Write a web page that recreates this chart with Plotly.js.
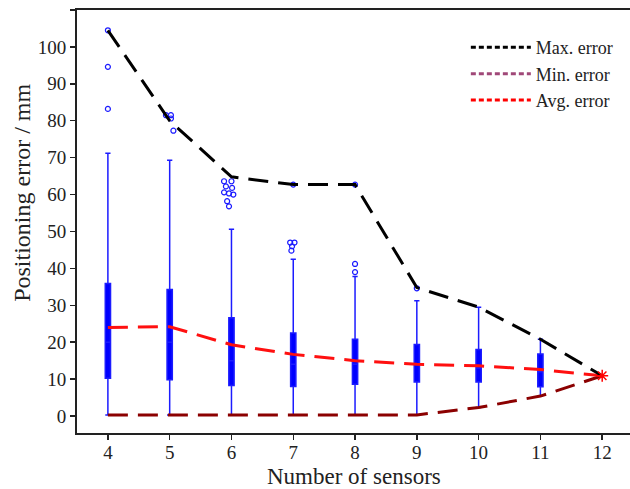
<!DOCTYPE html>
<html>
<head>
<meta charset="utf-8">
<script src="https://cdn.plot.ly/plotly-3.0.1.min.js"></script>
<style>
  html, body { margin: 0; padding: 0; background: #fff; }
  #chart { width: 630px; height: 489px; }
</style>
</head>
<body>
<div id="chart"></div>
<script>
// Number of sensors for each box
const sensors = [4, 5, 6, 7, 8, 9, 10, 11];

// Box statistics (mm)
const lowerWhisker = [0.3, 0.3, 0.3, 0.3, 0.3, 0.3, 2.3, 5.4];
const q1 = [10.2, 9.8, 8.3, 8.0, 8.6, 9.2, 9.2, 7.9];
const median = [20, 20, 15, 14, 14, 14, 13, 12];
const q3 = [35.9, 34.3, 26.6, 22.5, 20.8, 19.4, 18.0, 16.8];
const upperWhisker = [71.2, 69.3, 50.6, 42.5, 37.8, 31.2, 29.5, 20.8];

// Outlier samples (x with slight spread, value in mm)
const outlierX = [4, 4, 4,
  4.94, 5.02, 5.02, 5.06,
  5.88, 6.0, 5.91, 6.01, 5.88, 5.96, 6.03, 5.93, 5.96,
  7.0, 6.95, 7.02, 6.98, 6.97,
  8.0, 8.0, 8.0,
  9.0];
const outlierY = [104.5, 94.6, 83.2,
  81.5, 81.5, 80.6, 77.3,
  63.6, 63.6, 62.2, 61.8, 60.6, 60.3, 60.0, 58.2, 56.8,
  62.7, 47.0, 47.0, 46.0, 44.8,
  62.7, 41.2, 39.0,
  34.6];

// Summary curves over all sensor counts
const curveX = [4, 5, 6, 7, 8, 9, 10, 11, 12];
const maxError = [104.5, 80.0, 64.8, 62.7, 62.7, 34.8, 29.5, 20.8, 10.9];
const minError = [0.3, 0.3, 0.3, 0.3, 0.3, 0.3, 2.3, 5.4, 10.9];
const avgError = [24.0, 24.2, 19.3, 16.7, 15.0, 14.0, 13.6, 12.6, 10.9];

const seriesNames = ['Max. error', 'Min. error', 'Avg. error'];
const xTicks = [4, 5, 6, 7, 8, 9, 10, 11, 12];
const yTicks = [0, 10, 20, 30, 40, 50, 60, 70, 80, 90, 100, 110];

const serif = '"Liberation Serif", Tinos, "Times New Roman", Times, "DejaVu Serif", serif';
const ink = '#222222';
const longDash = '20px,10px';

const traces = [
  {
    type: 'box',
    x: sensors,
    q1: q1,
    median: median,
    q3: q3,
    lowerfence: lowerWhisker,
    upperfence: upperWhisker,
    boxpoints: false,
    width: 0.085,
    whiskerwidth: 1,
    fillcolor: '#0000ff',
    line: { color: '#1c1cff', width: 1.5 },
    showlegend: false,
    hoverinfo: 'skip'
  },
  {
    type: 'scatter',
    mode: 'markers',
    x: outlierX,
    y: outlierY,
    marker: { symbol: 'circle-open', size: 5, color: '#1a1aff', line: { width: 1.2 } },
    showlegend: false,
    hoverinfo: 'skip'
  },
  {
    type: 'scatter', mode: 'lines', x: curveX, y: minError,
    line: { color: '#8b0000', width: 3, dash: longDash },
    showlegend: false
  },
  {
    type: 'scatter', mode: 'lines', x: curveX, y: avgError,
    line: { color: '#ff1010', width: 3, dash: longDash },
    showlegend: false
  },
  {
    type: 'scatter', mode: 'lines', x: curveX, y: maxError,
    line: { color: '#000000', width: 3, dash: longDash },
    showlegend: false
  },
  {
    type: 'scatter', mode: 'markers',
    x: curveX.slice(-1), y: avgError.slice(-1),
    marker: { symbol: 'asterisk-open', size: 10, color: '#ff0000', line: { width: 1.5, color: '#ff0000' } },
    showlegend: false
  },
  // Legend entries (short-dash samples)
  {
    type: 'scatter', mode: 'lines', x: [null], y: [null], name: seriesNames[0],
    line: { color: '#000000', width: 3, dash: '5px,3px' }
  },
  {
    type: 'scatter', mode: 'lines', x: [null], y: [null], name: seriesNames[1],
    line: { color: '#a04878', width: 3, dash: '5px,3px' }
  },
  {
    type: 'scatter', mode: 'lines', x: [null], y: [null], name: seriesNames[2],
    line: { color: '#ff0000', width: 3, dash: '5px,3px' }
  }
];

const layout = {
  width: 630,
  height: 489,
  margin: { l: 77, r: 0, t: 10, b: 56 },
  paper_bgcolor: '#ffffff',
  plot_bgcolor: '#ffffff',
  font: { family: serif, color: ink, size: 18 },
  showlegend: true,
  legend: {
    x: 0.978, y: 0.955, xanchor: 'right', yanchor: 'top',
    bgcolor: 'rgba(255,255,255,0.9)',
    font: { family: serif, size: 18, color: ink },
    itemwidth: 60,
    tracegroupgap: 0
  },
  xaxis: {
    range: [3.5, 12.45],
    tickvals: xTicks,
    ticktext: xTicks.map(String),
    ticks: 'outside', ticklen: 5, tickwidth: 1.5, tickcolor: ink,
    ticklabelstandoff: -4,
    showline: true, linecolor: ink, linewidth: 2, mirror: true,
    showgrid: false, zeroline: false,
    tickfont: { family: serif, size: 19, color: ink }
  },
  yaxis: {
    range: [-4.6, 110],
    tickvals: yTicks,
    ticktext: yTicks.map(String),
    ticks: 'outside', ticklen: 5, tickwidth: 1.5, tickcolor: ink,
    showline: true, linecolor: ink, linewidth: 2,
    showgrid: false, zeroline: false,
    tickfont: { family: serif, size: 19, color: ink }
  },
  annotations: [
    {
      text: 'Positioning error / mm',
      xref: 'paper', yref: 'paper',
      x: -0.1, y: 0.567,
      xanchor: 'center', yanchor: 'middle',
      textangle: -90,
      showarrow: false,
      font: { family: serif, size: 24, color: ink }
    },
    {
      text: 'Number of sensors',
      xref: 'paper', yref: 'paper',
      x: 0.5, y: -0.103,
      xanchor: 'center', yanchor: 'middle',
      showarrow: false,
      font: { family: serif, size: 23, color: ink }
    }
  ]
};

Plotly.newPlot('chart', traces, layout, { displayModeBar: false, staticPlot: true });
</script>
</body>
</html>
